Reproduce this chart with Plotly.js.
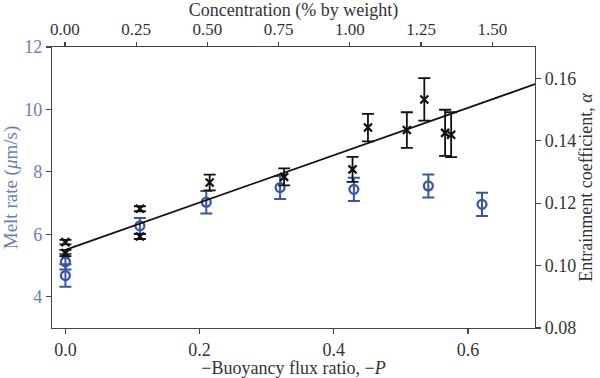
<!DOCTYPE html>
<html>
<head>
<meta charset="utf-8">
<script src="https://cdn.plot.ly/plotly-3.0.1.min.js"></script>
<style>html,body{margin:0;padding:0;background:#fff;}#chart{width:600px;height:378px;}</style>
</head>
<body>
<div id="chart"></div>
<script>
// Melt rate (left axis), blue circles
const meltP = [0.0, 0.0, 0.111, 0.210, 0.320, 0.430, 0.541, 0.621];
const meltRate = [5.12, 4.68, 6.27, 7.03, 7.50, 7.44, 7.55, 6.96];
const meltErr = [0.25, 0.36, 0.25, 0.36, 0.37, 0.37, 0.37, 0.37];

// Entrainment coefficient (right axis), black crosses
const alphaP = [0.0, 0.0, 0.111, 0.111, 0.215, 0.326, 0.428, 0.451, 0.509, 0.535, 0.566, 0.575];
const alphaVal = [0.1075, 0.1040, 0.1182, 0.1093, 0.1266, 0.1284, 0.1308, 0.1442, 0.1434, 0.1532, 0.1425, 0.1419];
const alphaErr = [0.0007, 0.0010, 0.0008, 0.0008, 0.0025, 0.0027, 0.0040, 0.0044, 0.0057, 0.0068, 0.0074, 0.0072];

// Linear fit of alpha
const fitP = [0.0, 0.70];
const fitAlpha = [0.105, 0.1581];

// Axis ticks
const pTicks = [0.0, 0.2, 0.4, 0.6];
const pTickText = ['0.0', '0.2', '0.4', '0.6'];
const concTicks = [0.0, 0.25, 0.5, 0.75, 1.0, 1.25, 1.5];
const concTickText = ['0.00', '0.25', '0.50', '0.75', '1.00', '1.25', '1.50'];
const meltTicks = [4, 6, 8, 10, 12];
const alphaTicks = [0.08, 0.10, 0.12, 0.14, 0.16];
const alphaTickText = ['0.08', '0.10', '0.12', '0.14', '0.16'];

const blue = '#3b54a3';
const blueText = '#6c7db2';
const axisCol = '#444';
const font = 'Liberation Serif, DejaVu Serif, serif';

const traces = [
  {
    x: fitP, y: fitAlpha, xaxis: 'x', yaxis: 'y2', mode: 'lines',
    line: {color: '#111', width: 1.8}, showlegend: false, hoverinfo: 'skip'
  },
  {
    x: meltP, y: meltRate, xaxis: 'x', yaxis: 'y', mode: 'markers', type: 'scatter',
    marker: {symbol: 'circle-open', size: 9, color: blue, line: {width: 2.2, color: blue}},
    error_y: {type: 'data', array: meltErr, visible: true, color: blue, thickness: 2, width: 6},
    showlegend: false
  },
  {
    x: alphaP, y: alphaVal, xaxis: 'x', yaxis: 'y2', mode: 'markers', type: 'scatter',
    marker: {symbol: 'x-thin-open', size: 8, color: '#111', line: {width: 2.3, color: '#111'}},
    error_y: {type: 'data', array: alphaErr, visible: true, color: '#111', thickness: 1.8, width: 6},
    showlegend: false
  },
  {
    x: concTicks, y: concTicks.map(() => null), xaxis: 'x2', yaxis: 'y', mode: 'markers',
    showlegend: false, hoverinfo: 'skip'
  }
];

const layout = {
  width: 600, height: 378,
  margin: {l: 52, r: 65, t: 47, b: 50, pad: 0},
  paper_bgcolor: '#fff', plot_bgcolor: '#fff',
  font: {family: font, size: 17, color: '#333'},
  showlegend: false,
  xaxis: {
    range: [-0.02, 0.70], tickvals: pTicks, ticktext: pTickText,
    showgrid: false, zeroline: false, showline: true, linecolor: axisCol, linewidth: 1.2,
    ticks: 'outside', ticklen: 5, tickcolor: axisCol, tickwidth: 1.2,
    tickfont: {family: font, size: 18, color: '#333'},
    title: {text: '\u2212Buoyancy flux ratio, \u2212<i>P</i>', font: {family: font, size: 18, color: '#333'}, standoff: 7}
  },
  xaxis2: {
    overlaying: 'x', side: 'top', anchor: 'y',
    range: [-0.0456, 1.650], tickvals: concTicks, ticktext: concTickText,
    showgrid: false, zeroline: false, showline: true, linecolor: axisCol, linewidth: 1.2,
    ticks: 'outside', ticklen: 4, tickcolor: axisCol, tickwidth: 1.2,
    tickfont: {family: font, size: 17, color: '#333'},
    title: {text: 'Concentration (% by weight)', font: {family: font, size: 18, color: '#333'}, standoff: 0}
  },
  yaxis: {
    range: [3, 12], tickvals: meltTicks,
    showgrid: false, zeroline: false, showline: true, linecolor: axisCol, linewidth: 1.2,
    ticks: 'outside', ticklen: 5, tickcolor: axisCol, tickwidth: 1.2,
    tickfont: {family: font, size: 18, color: blueText},
    title: {text: 'Melt rate (<i>\u03bc</i>m/s)', font: {family: font, size: 19, color: blueText}, standoff: 6}
  },
  yaxis2: {
    overlaying: 'y', side: 'right', anchor: 'x',
    range: [0.08, 0.17], tickvals: alphaTicks, ticktext: alphaTickText,
    showgrid: false, zeroline: false, showline: true, linecolor: axisCol, linewidth: 1.2,
    ticks: 'outside', ticklen: 5, tickcolor: axisCol, tickwidth: 1.2,
    tickfont: {family: font, size: 18, color: '#333'},
    title: {text: 'Entrainment coefficient, <i>\u03b1</i>', font: {family: font, size: 18, color: '#333'}, standoff: 4}
  }
};

Plotly.newPlot('chart', traces, layout, {displayModeBar: false, staticPlot: true});
</script>
</body>
</html>
